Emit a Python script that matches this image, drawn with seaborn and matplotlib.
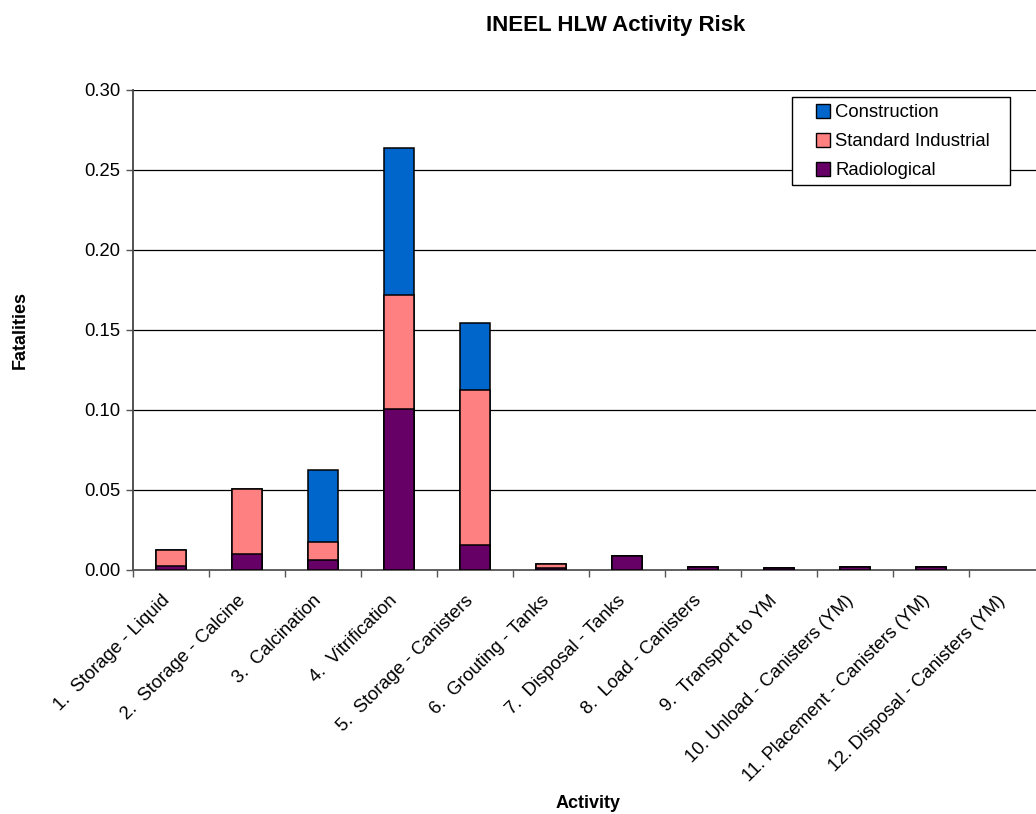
import matplotlib
matplotlib.use("Agg")
import matplotlib.pyplot as plt
from matplotlib.patches import Patch, Rectangle
from matplotlib.ticker import FormatStrFormatter, FixedLocator
from matplotlib.transforms import ScaledTranslation
import numpy as np
import pandas as pd
import seaborn as sns

categories = [
    "1.  Storage - Liquid", "2.  Storage - Calcine", "3.  Calcination",
    "4.  Vitrification", "5.  Storage - Canisters", "6.  Grouting - Tanks",
    "7.  Disposal - Tanks", "8.  Load - Canisters", "9.  Transport to YM",
    "10. Unload - Canisters (YM)", "11. Placement - Canisters (YM)",
    "12. Disposal - Canisters (YM)",
]
radiological = [0.0027, 0.0098, 0.0063, 0.1006, 0.0156, 0.0010, 0.0087, 0.0018, 0.0015, 0.0018, 0.0018, 0.0]
standard_industrial = [0.0098, 0.0410, 0.0114, 0.0711, 0.0969, 0.0030, 0.0, 0.0, 0.0, 0.0, 0.0, 0.0]
construction = [0.0, 0.0, 0.0448, 0.0918, 0.0421, 0.0, 0.0, 0.0, 0.0, 0.0, 0.0, 0.0]

series_names = ["Construction", "Standard Industrial", "Radiological"]
colors = {"Construction": "#0066CC", "Standard Industrial": "#FF8080", "Radiological": "#660066"}

sns.set_theme(style="white")
plt.rcParams["font.family"] = ["Liberation Sans", "DejaVu Sans"]
plt.rcParams["text.color"] = "black"
plt.rcParams["xtick.color"] = "black"
plt.rcParams["ytick.color"] = "black"
plt.rcParams["axes.labelcolor"] = "black"

rad = np.array(radiological)
std = np.array(standard_industrial)
con = np.array(construction)
df = pd.DataFrame({
    "Activity": categories,
    "Radiological": rad,
    "Standard Industrial": rad + std,
    "Construction": rad + std + con,
})

fig = plt.figure(figsize=(10.36, 8.14), dpi=100)
ax = fig.add_axes([133 / 1036, 1 - 570 / 814, (1045 - 133) / 1036, 480 / 814])

for name in ["Construction", "Standard Industrial", "Radiological"]:
    sns.barplot(data=df, x="Activity", y=name, order=categories, color=colors[name],
                saturation=1, width=0.4, edgecolor="black", linewidth=1.1, ax=ax, zorder=3)

# hide bars of zero height (no visible mark in the reference)
for p in ax.patches:
    if p.get_height() <= 0:
        p.set_visible(False)

ax.set_xlim(-0.5, len(categories) - 0.5)
ax.set_ylim(0, 0.30)
ax.set_yticks(np.arange(0, 0.301, 0.05))
ax.yaxis.set_major_formatter(FormatStrFormatter("%.2f"))
ax.yaxis.grid(True, color="black", linewidth=0.9, zorder=0)
ax.set_axisbelow(True)

ax.set_xticks(range(len(categories)))
ax.set_xticklabels(categories, rotation=45, ha="right", va="top", rotation_mode="anchor",
                   fontsize=13.3)
ax.tick_params(axis="x", which="major", length=0, pad=16)
shift = ScaledTranslation(-10 / 100, 0, fig.dpi_scale_trans)
for lbl in ax.get_xticklabels():
    lbl.set_transform(lbl.get_transform() + shift)
ax.xaxis.set_minor_locator(FixedLocator(np.arange(-0.5, len(categories), 1.0)))
ax.tick_params(axis="x", which="minor", length=5, width=1, color="#555555", bottom=True)
ax.tick_params(axis="y", which="major", length=5, width=1, color="#555555", left=True,
               labelsize=13.3, pad=4)

for side in ["top", "right"]:
    ax.spines[side].set_visible(False)
ax.spines["left"].set_color("#444444")
ax.spines["bottom"].set_color("#555555")
ax.spines["left"].set_linewidth(1.3)
ax.spines["bottom"].set_linewidth(1.3)

ax.set_xlabel("")
ax.set_ylabel("")
fig.text(20 / 1036, 1 - 330 / 814, "Fatalities", rotation=90, ha="center", va="center",
         fontsize=13, fontweight="bold")
fig.text(588 / 1036, 1 - 804 / 814, "Activity", ha="center", va="center",
         fontsize=13, fontweight="bold")
fig.text(616 / 1036, 1 - 25 / 814, "INEEL HLW Activity Risk", ha="center", va="center",
         fontsize=16, fontweight="bold")

# legend box
box = Rectangle((792 / 1036, 1 - 185 / 814), (1010 - 792) / 1036, 88 / 814,
                transform=fig.transFigure, facecolor="white", edgecolor="black",
                linewidth=1.0, zorder=4, clip_on=False)
ax.add_patch(box)
handles = [Patch(facecolor=colors[n], edgecolor="black", linewidth=1.0) for n in series_names]
leg = ax.legend(handles, series_names, loc="upper left",
                bbox_to_anchor=(812 / 1036, 1 - 100 / 814), bbox_transform=fig.transFigure,
                frameon=False, fontsize=13.3,
                handlelength=0.8, handleheight=0.8, handletextpad=0.25,
                borderpad=0.2, labelspacing=0.62, borderaxespad=0)
leg.set_zorder(6)

fig.savefig("out.png", dpi=100, facecolor="white")
